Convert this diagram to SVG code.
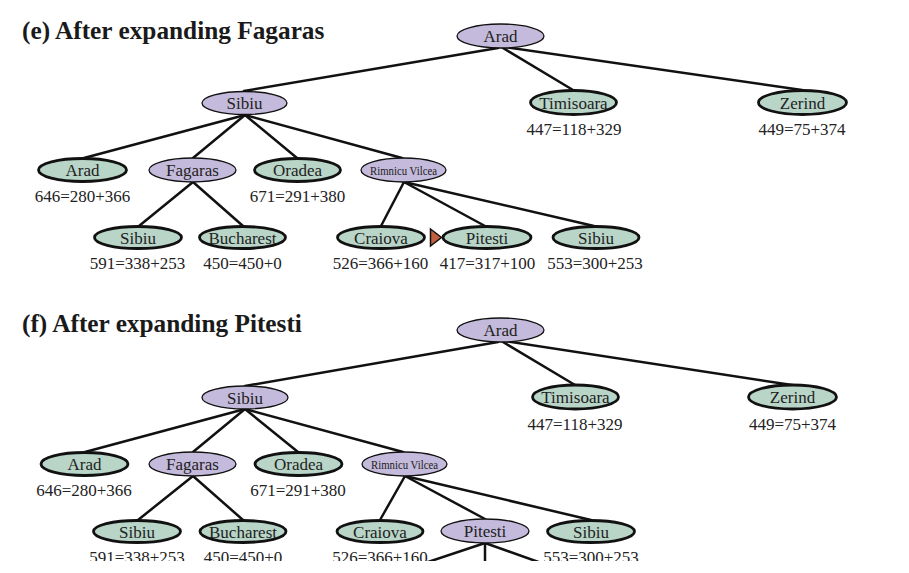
<svg xmlns="http://www.w3.org/2000/svg" width="909" height="573" viewBox="0 0 909 573">
<style>
.bg{fill:#fff}
.title{font-family:"Liberation Serif",serif;font-weight:bold;font-size:25.3px;fill:#1a1a1a}
.exp ellipse{fill:#c4badb;stroke:#111;stroke-width:1.3}
.fr ellipse{fill:#b8d5c8;stroke:#111;stroke-width:2.8}
.lbl{font-family:"Liberation Serif",serif;font-size:17px;fill:#222;text-anchor:middle}
.rv{font-family:"Liberation Serif",serif;font-size:13.5px;fill:#222;text-anchor:middle}
.h{font-family:"Liberation Serif",serif;font-size:17px;fill:#222;text-anchor:middle}
.edges line{stroke:#111;stroke-width:2.5;stroke-linecap:round}
.mark{fill:#c0603f;stroke:#111;stroke-width:1.5}
</style>
<rect class="bg" x="0" y="0" width="909" height="573"/>

<text class="title" x="22" y="39">(e) After expanding Fagaras</text>
<text class="title" x="22" y="332">(f) After expanding Pitesti</text>

<g class="edges" id="edges">
<line x1="498" y1="48" x2="244" y2="91"/>
<line x1="503" y1="48" x2="573" y2="90"/>
<line x1="505" y1="47" x2="802" y2="90"/>
<line x1="245" y1="115" x2="84" y2="158"/>
<line x1="245" y1="115" x2="193" y2="158"/>
<line x1="245" y1="115" x2="297" y2="158"/>
<line x1="245" y1="115" x2="402" y2="158"/>
<line x1="193" y1="182" x2="139" y2="226"/>
<line x1="193" y1="182" x2="243" y2="226"/>
<line x1="404" y1="182" x2="381" y2="226"/>
<line x1="404" y1="182" x2="485" y2="226"/>
<line x1="404" y1="182" x2="594" y2="226"/>
<line x1="498" y1="342" x2="245" y2="386"/>
<line x1="503" y1="342" x2="575" y2="385"/>
<line x1="505" y1="341" x2="792" y2="385"/>
<line x1="245" y1="409" x2="85" y2="452"/>
<line x1="245" y1="409" x2="193" y2="452"/>
<line x1="245" y1="409" x2="298" y2="452"/>
<line x1="245" y1="409" x2="403" y2="452"/>
<line x1="193" y1="476" x2="138" y2="520"/>
<line x1="193" y1="476" x2="243" y2="520"/>
<line x1="405" y1="476" x2="380" y2="520"/>
<line x1="405" y1="476" x2="485" y2="519"/>
<line x1="405" y1="476" x2="591" y2="520"/>
<line x1="485" y1="543" x2="389" y2="575"/>
<line x1="485" y1="543" x2="485" y2="575"/>
<line x1="485" y1="543" x2="575" y2="575"/>
</g>

<g id="e-arad" class="exp"><ellipse cx="500.5" cy="36" rx="43.5" ry="12"/><text class="lbl" x="500.5" y="42">Arad</text></g>
<g id="e-sibiu" class="exp"><ellipse cx="244.5" cy="103" rx="42.5" ry="11.5"/><text class="lbl" x="244.5" y="109">Sibiu</text></g>
<g id="e-timisoara" class="fr"><ellipse cx="573.5" cy="102.5" rx="43" ry="12"/><text class="lbl" x="573.5" y="108.5">Timisoara</text><text class="h" x="574" y="135">447=118+329</text></g>
<g id="e-zerind" class="fr"><ellipse cx="802.5" cy="102.5" rx="44" ry="12"/><text class="lbl" x="802.5" y="108.5">Zerind</text><text class="h" x="802" y="135">449=75+374</text></g>
<g id="e-arad2" class="fr"><ellipse cx="82.5" cy="170" rx="44" ry="11.5"/><text class="lbl" x="82.5" y="176">Arad</text><text class="h" x="82.5" y="202">646=280+366</text></g>
<g id="e-fagaras" class="exp"><ellipse cx="192.5" cy="170" rx="43.5" ry="12"/><text class="lbl" x="192.5" y="176">Fagaras</text></g>
<g id="e-oradea" class="fr"><ellipse cx="297.5" cy="170" rx="43" ry="11.5"/><text class="lbl" x="297.5" y="176">Oradea</text><text class="h" x="297.5" y="202">671=291+380</text></g>
<g id="e-rimnicu" class="exp"><ellipse cx="403.5" cy="170" rx="42.5" ry="12"/><text class="rv" x="403.5" y="175" textLength="67" lengthAdjust="spacingAndGlyphs">Rimnicu Vilcea</text></g>
<g id="e-sibiu3" class="fr"><ellipse cx="138" cy="237.5" rx="43.5" ry="11"/><text class="lbl" x="138" y="243.5">Sibiu</text><text class="h" x="137.5" y="269">591=338+253</text></g>
<g id="e-bucharest" class="fr"><ellipse cx="242.5" cy="237.5" rx="43" ry="11"/><text class="lbl" x="242.5" y="243.5">Bucharest</text><text class="h" x="242.5" y="269">450=450+0</text></g>
<g id="e-craiova" class="fr"><ellipse cx="381" cy="237.5" rx="43.5" ry="11"/><text class="lbl" x="381" y="243.5">Craiova</text><text class="h" x="380.5" y="269">526=366+160</text></g>
<g id="e-pitesti" class="fr"><ellipse cx="487" cy="237.5" rx="44" ry="11"/><text class="lbl" x="487" y="243.5">Pitesti</text><text class="h" x="487.5" y="269">417=317+100</text></g>
<g id="e-sibiu4" class="fr"><ellipse cx="596" cy="237.5" rx="43" ry="11"/><text class="lbl" x="596" y="243.5">Sibiu</text><text class="h" x="595" y="269">553=300+253</text></g>
<g id="e-marker"><polygon class="mark" points="430.5,229 441.5,237.5 430.5,246"/></g>

<g id="f-arad" class="exp"><ellipse cx="500.5" cy="330" rx="43.5" ry="12"/><text class="lbl" x="500.5" y="336">Arad</text></g>
<g id="f-sibiu" class="exp"><ellipse cx="245" cy="397.5" rx="43" ry="11.5"/><text class="lbl" x="245" y="403.5">Sibiu</text></g>
<g id="f-timisoara" class="fr"><ellipse cx="575.5" cy="397" rx="43" ry="12"/><text class="lbl" x="575.5" y="403">Timisoara</text><text class="h" x="575" y="429.5">447=118+329</text></g>
<g id="f-zerind" class="fr"><ellipse cx="792.5" cy="397" rx="44" ry="12"/><text class="lbl" x="792.5" y="403">Zerind</text><text class="h" x="792.5" y="429.5">449=75+374</text></g>
<g id="f-arad2" class="fr"><ellipse cx="84.5" cy="464" rx="43.5" ry="11.5"/><text class="lbl" x="84.5" y="470">Arad</text><text class="h" x="84" y="496">646=280+366</text></g>
<g id="f-fagaras" class="exp"><ellipse cx="192.5" cy="464" rx="43.5" ry="12"/><text class="lbl" x="192.5" y="470">Fagaras</text></g>
<g id="f-oradea" class="fr"><ellipse cx="298.5" cy="464" rx="43.5" ry="11.5"/><text class="lbl" x="298.5" y="470">Oradea</text><text class="h" x="298" y="496">671=291+380</text></g>
<g id="f-rimnicu" class="exp"><ellipse cx="404.5" cy="464" rx="42.5" ry="12"/><text class="rv" x="404.5" y="469" textLength="67" lengthAdjust="spacingAndGlyphs">Rimnicu Vilcea</text></g>
<g id="f-sibiu3" class="fr"><ellipse cx="137" cy="531.5" rx="43.5" ry="11"/><text class="lbl" x="137" y="537.5">Sibiu</text><text class="h" x="137" y="563">591=338+253</text></g>
<g id="f-bucharest" class="fr"><ellipse cx="243" cy="531.5" rx="43" ry="11"/><text class="lbl" x="243" y="537.5">Bucharest</text><text class="h" x="243" y="563">450=450+0</text></g>
<g id="f-craiova" class="fr"><ellipse cx="380" cy="531.5" rx="43" ry="11"/><text class="lbl" x="380" y="537.5">Craiova</text><text class="h" x="380" y="563">526=366+160</text></g>
<g id="f-pitesti" class="exp"><ellipse cx="485" cy="531" rx="44" ry="12"/><text class="lbl" x="485" y="537">Pitesti</text></g>
<g id="f-sibiu4" class="fr"><ellipse cx="591" cy="531.5" rx="43.5" ry="11"/><text class="lbl" x="591" y="537.5">Sibiu</text><text class="h" x="591" y="563">553=300+253</text></g>

<rect class="bg" x="0" y="561" width="909" height="12"/>
</svg>
